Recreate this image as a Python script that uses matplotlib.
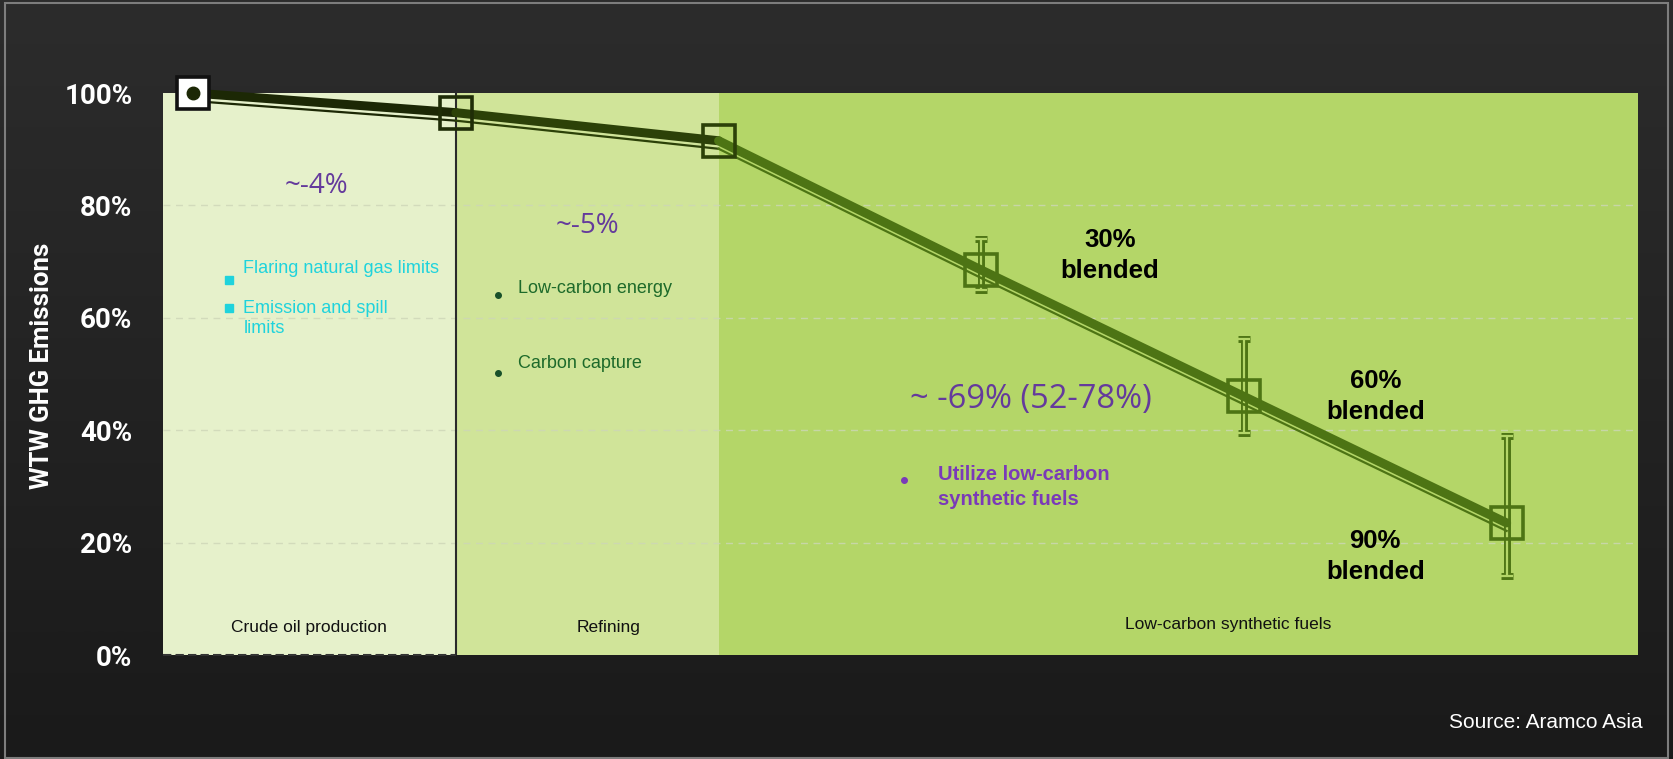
import numpy as np
import matplotlib
matplotlib.use("Agg")
import matplotlib.pyplot as plt
from matplotlib.patches import Rectangle
from matplotlib.transforms import offset_copy
from matplotlib.colors import LinearSegmentedColormap

# ---------------- data ----------------
stages = ["Crude oil production", "Refining", "Low-carbon synthetic fuels"]
steps = [0, 1, 2, 3, 4, 5]
emissions = [100, 96.5, 91.5, 68.5, 46.0, 23.5]
err_steps = [3, 4, 5]
err_center = [68.5, 46.0, 23.5]
err_high = [74.0, 56.3, 39.0]
err_low = [65.0, 39.5, 14.0]
yticks = [0, 20, 40, 60, 80, 100]
ytick_labels = ["0%", "20%", "40%", "60%", "80%", "100%"]
reduction_labels = ["~-4%", "~-5%", "~ -69% (52-78%)"]
blend_labels = ["30%\nblended", "60%\nblended", "90%\nblended"]
crude_bullets = ["Flaring natural gas limits", "Emission and spill\nlimits"]
refining_bullets = ["Low-carbon energy", "Carbon capture"]
synth_bullets = ["Utilize low-carbon\nsynthetic fuels"]
ylabel = "WTW GHG Emissions"
source = "Source: Aramco Asia"

# ---------------- figure ----------------
W, H = 1673, 759
fig = plt.figure(figsize=(W / 100, H / 100), dpi=100)

bg = fig.add_axes([0, 0, 1, 1], zorder=-10)
grad = np.linspace(0, 1, 256).reshape(-1, 1)
cmap_bg = LinearSegmentedColormap.from_list("bg", ["#2c2c2c", "#1a1a1a"])
bg.imshow(grad, aspect="auto", cmap=cmap_bg, extent=[0, 1, 0, 1], origin="upper")
bg.set_xlim(0, 1)
bg.set_ylim(0, 1)
bg.axis("off")
bg.add_patch(Rectangle((5 / W, 1.5 / H), (W - 10) / W, (H - 4) / H,
                       fill=False, edgecolor="#7d7d7d", lw=1.5))

ax = fig.add_axes([163 / W, (H - 655) / H, 1475 / W, 562 / H])
ax.set_facecolor("none")
x0, x1 = -0.115, 5.5
ax.set_xlim(x0, x1)
ax.set_ylim(0, 100)

panel_cols = ["#e6f1cb", "#d0e499", "#b4d668"]
bounds = [x0, 1, 2, x1]
for i in range(3):
    ax.add_patch(Rectangle((bounds[i], 0), bounds[i + 1] - bounds[i], 100,
                           facecolor=panel_cols[i], edgecolor="none", zorder=0))

for yv in yticks[1:-1]:
    ax.plot([x0, x1], [yv, yv], color="#cdd6b8", lw=1.0, ls=(0, (5, 4)),
            alpha=0.8, zorder=1)
ax.plot([x0, 1], [0, 0], color="#333333", lw=1.5, ls=(0, (4, 2)), zorder=2,
        clip_on=False)
ax.plot([1, 1], [0, 100], color="#2a2a2a", lw=1.5, zorder=2)

stage_pos = [(0.44, 4.9), (1.58, 4.9), (3.94, 5.5)]
for (sx, sy), s in zip(stage_pos, stages):
    ax.text(sx, sy, s, ha="center", va="center", fontsize=12.5,
            family="Liberation Sans", color="#111111")

# line segments (main thick + thin offset companion)
seg_cols = ["#1c2805", "#2c4108", "#4d7414", "#4d7414", "#4d7414"]
thin_tr = offset_copy(ax.transData, fig=fig, x=0, y=-8, units="dots")
for i in range(len(steps) - 1):
    xs = steps[i:i + 2]
    ys = emissions[i:i + 2]
    ax.plot(xs, ys, color=seg_cols[i], lw=6.5, solid_capstyle="round",
            zorder=4, clip_on=False)
    ax.plot(xs, ys, color=seg_cols[i], lw=1.6, zorder=4, transform=thin_tr,
            clip_on=False)

# error bars (double-line look)
for xe, c, hi, lo in zip(err_steps, err_center, err_high, err_low):
    ax.errorbar([xe], [c], yerr=[[c - lo], [hi - c]], fmt="none",
                ecolor="#4d7414", elinewidth=5, capsize=4.5, capthick=5, zorder=3)
    ax.errorbar([xe], [c], yerr=[[c - lo], [hi - c]], fmt="none",
                ecolor=panel_cols[2], elinewidth=1.6, capsize=4.5, capthick=1.6,
                zorder=3)

mk_face = ["white", "none", "none", "none", "none", "none"]
mk_edge = ["#111111", "#1f2d07", "#2c4108", "#4d7414", "#4d7414", "#4d7414"]
for xv, yv, fc, ec in zip(steps, emissions, mk_face, mk_edge):
    ax.plot([xv], [yv], marker="s", ms=23, mfc=fc, mec=ec, mew=2.6,
            zorder=5, clip_on=False)
ax.plot([steps[0]], [emissions[0]], marker="o", ms=9, color="#1c2805",
        zorder=6, clip_on=False)

purple = "#643a9c"
ax.text(0.47, 83.5, reduction_labels[0], ha="center", va="center",
        fontsize=20, color=purple, family="Open Sans")
ax.text(1.50, 76.4, reduction_labels[1], ha="center", va="center",
        fontsize=20, color=purple, family="Open Sans")
ax.text(2.73, 45.4, reduction_labels[2], ha="left", va="center",
        fontsize=23.5, color=purple, family="Open Sans")

cyan = "#1fd3dc"
ax.plot([0.138], [66.7], marker="s", ms=6, color=cyan, zorder=6)
ax.text(0.191, 68.8, crude_bullets[0], ha="left", va="center", fontsize=13,
        color=cyan, family="Liberation Sans")
ax.plot([0.138], [61.8], marker="s", ms=6, color=cyan, zorder=6)
ax.text(0.191, 59.9, crude_bullets[1], ha="left", va="center", fontsize=13,
        color=cyan, family="Liberation Sans", linespacing=1.25)

dgreen = "#1d6a2a"
for (bx, by), (tx, ty), t in zip([(1.159, 64.1), (1.159, 50.2)],
                                 [(1.236, 65.2), (1.236, 51.9)],
                                 refining_bullets):
    ax.plot([bx], [by], marker="o", ms=4, color="#18502a", zorder=6)
    ax.text(tx, ty, t, ha="left", va="center", fontsize=13, color=dgreen,
            family="Liberation Sans")

sp = "#7a3ab8"
ax.plot([2.707], [31.2], marker="o", ms=4, color=sp, zorder=6)
ax.text(2.837, 29.9, synth_bullets[0], ha="left", va="center", fontsize=14.5,
        color=sp, family="Liberation Sans", fontweight="bold", linespacing=1.35)

for (bx, by), t in zip([(3.49, 71.1), (4.50, 46.0), (4.50, 17.5)], blend_labels):
    ax.text(bx, by, t, ha="center", va="center", fontsize=18.5,
            family="Liberation Sans", fontweight="bold", color="black",
            linespacing=1.4, zorder=7)

for s in ax.spines.values():
    s.set_visible(False)
ax.set_xticks([])
ax.set_yticks(yticks)
ax.set_yticklabels(ytick_labels)
ax.tick_params(axis="y", length=0, pad=22, labelcolor="white", labelsize=20)
for lab in ax.get_yticklabels():
    lab.set_fontweight("bold")
    lab.set_family("Roboto")

fig.text(42 / W, 1 - 366 / H, ylabel, rotation=90, ha="center", va="center",
         color="white", fontsize=18.5, fontweight="bold", family="Roboto")
fig.text(1643 / W, 1 - 723 / H, source, ha="right", va="center", color="white",
         fontsize=15, family="Liberation Sans")

fig.savefig("out.png", dpi=100)
